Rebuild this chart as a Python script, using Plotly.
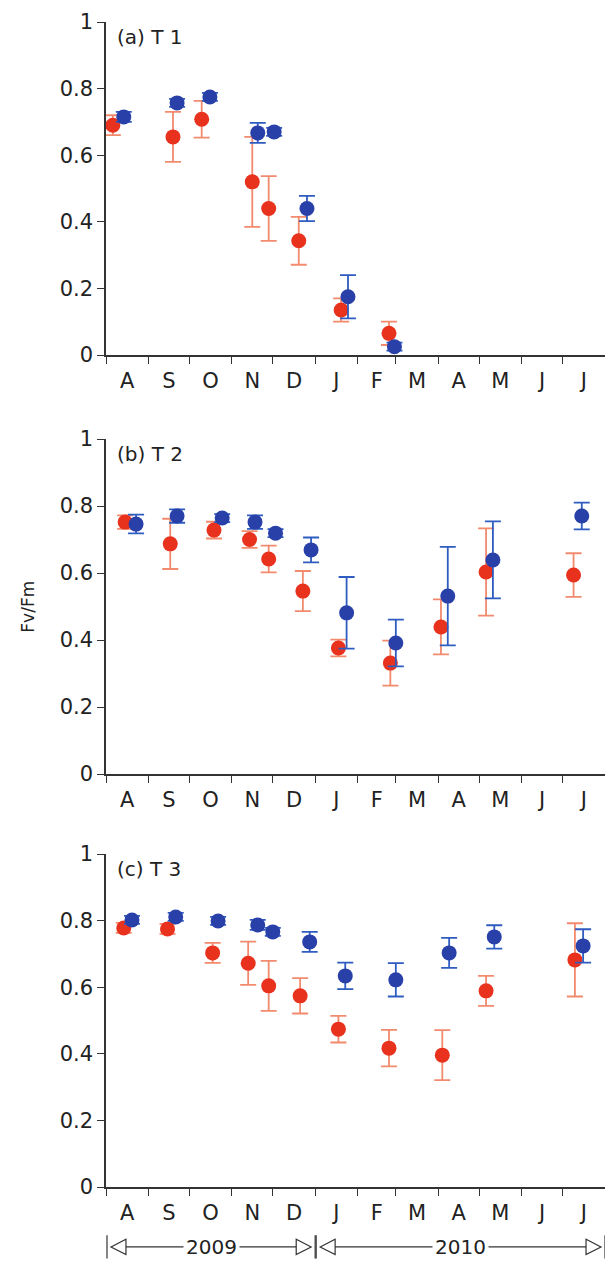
import plotly.graph_objects as go
from plotly.subplots import make_subplots
import pandas as pd

# ---------------- data ----------------
month_labels = ["A", "S", "O", "N", "D", "J", "F", "M", "A", "M", "J", "J"]
y_ticks = [0, 0.2, 0.4, 0.6, 0.8, 1]
y_ticktext = ["0", "0.2", "0.4", "0.6", "0.8", "1"]
panel_labels = ["(a) T 1", "(b) T 2", "(c) T 3"]
year_labels = ["2009", "2010"]

# Panel (a) T1
a_red_dates = ["2009-08-06", "2009-09-19", "2009-10-10", "2009-11-16", "2009-11-28",
               "2009-12-20", "2010-01-20", "2010-02-24"]
a_red_vals = [0.69, 0.655, 0.708, 0.52, 0.44, 0.343, 0.135, 0.065]
a_red_err = [0.03, 0.075, 0.055, 0.135, 0.097, 0.072, 0.035, 0.035]
a_blue_dates = ["2009-08-14", "2009-09-22", "2009-10-16", "2009-11-20", "2009-12-02",
                "2009-12-26", "2010-01-25", "2010-02-28"]
a_blue_vals = [0.715, 0.757, 0.775, 0.667, 0.67, 0.44, 0.175, 0.025]
a_blue_err = [0.015, 0.012, 0.012, 0.03, 0.012, 0.038, 0.065, 0.012]

# Panel (b) T2
b_red_dates = ["2009-08-15", "2009-09-17", "2009-10-19", "2009-11-14", "2009-11-28",
               "2009-12-23", "2010-01-18", "2010-02-25", "2010-04-03", "2010-05-06", "2010-07-09"]
b_red_vals = [0.752, 0.687, 0.728, 0.70, 0.642, 0.546, 0.376, 0.331, 0.439, 0.603, 0.594]
b_red_err = [0.02, 0.075, 0.025, 0.025, 0.04, 0.06, 0.025, 0.067, 0.082, 0.13, 0.065]
b_blue_dates = ["2009-08-23", "2009-09-22", "2009-10-25", "2009-11-18", "2009-12-03",
                "2009-12-29", "2010-01-24", "2010-03-01", "2010-04-08", "2010-05-11", "2010-07-15"]
b_blue_vals = [0.746, 0.770, 0.764, 0.752, 0.719, 0.669, 0.481, 0.391, 0.531, 0.639, 0.770]
b_blue_err = [0.028, 0.02, 0.012, 0.02, 0.012, 0.037, 0.107, 0.07, 0.147, 0.115, 0.04]

# Panel (c) T3
c_red_dates = ["2009-08-14", "2009-09-15", "2009-10-18", "2009-11-13", "2009-11-28",
               "2009-12-21", "2010-01-18", "2010-02-24", "2010-04-04", "2010-05-06", "2010-07-10"]
c_red_vals = [0.778, 0.775, 0.703, 0.672, 0.604, 0.574, 0.474, 0.417, 0.396, 0.589, 0.682]
c_red_err = [0.015, 0.015, 0.03, 0.065, 0.075, 0.053, 0.04, 0.055, 0.075, 0.045, 0.11]
c_blue_dates = ["2009-08-20", "2009-09-21", "2009-10-22", "2009-11-20", "2009-12-01",
                "2009-12-28", "2010-01-23", "2010-03-01", "2010-04-09", "2010-05-12", "2010-07-16"]
c_blue_vals = [0.802, 0.811, 0.799, 0.787, 0.766, 0.736, 0.634, 0.622, 0.703, 0.751, 0.724]
c_blue_err = [0.012, 0.012, 0.012, 0.015, 0.012, 0.03, 0.04, 0.05, 0.045, 0.035, 0.05]

x_start = "2009-08-01"
x_year_break = "2010-01-01"
x_end = "2010-08-01"

# ---------------- styling ----------------
RED = "#e8321e"
RED_ERR = "#f28a6e"
BLUE = "#2840a8"
BLUE_ERR = "#2f5cc0"
AX = "#333333"
TXT = "#222222"
FONT = "DejaVu Sans"

panels = [
    (a_red_dates, a_red_vals, a_red_err, a_blue_dates, a_blue_vals, a_blue_err),
    (b_red_dates, b_red_vals, b_red_err, b_blue_dates, b_blue_vals, b_blue_err),
    (c_red_dates, c_red_vals, c_red_err, c_blue_dates, c_blue_vals, c_blue_err),
]

fig = make_subplots(rows=3, cols=1)

for i, (rd, rv, re, bd, bv, be) in enumerate(panels, start=1):
    fig.add_trace(go.Scatter(
        x=rd, y=rv, mode="markers",
        marker=dict(color=RED, size=15, line=dict(width=0)),
        error_y=dict(type="data", array=re, color=RED_ERR, thickness=1.8, width=8),
        showlegend=False), row=i, col=1)
    fig.add_trace(go.Scatter(
        x=bd, y=bv, mode="markers",
        marker=dict(color=BLUE, size=15, line=dict(width=0)),
        error_y=dict(type="data", array=be, color=BLUE_ERR, thickness=1.8, width=8),
        showlegend=False), row=i, col=1)

# month label positions (mid-month) and boundaries
month_starts = pd.date_range(x_start, x_end, freq="MS")
mid_months = [(month_starts[k] + (month_starts[k + 1] - month_starts[k]) / 2).strftime("%Y-%m-%d %H:%M")
              for k in range(len(month_starts) - 1)]

total_h = 1261 - 22 - 74
domains = [
    [(total_h - 333) / total_h, 1.0],
    [(total_h - 752) / total_h, (total_h - 417) / total_h],
    [0.0, 333 / total_h],
]

for i in range(1, 4):
    xa = "xaxis" if i == 1 else f"xaxis{i}"
    ya = "yaxis" if i == 1 else f"yaxis{i}"
    fig.layout[xa].update(
        type="date", range=[x_start, x_end], domain=[0, 1],
        tickvals=mid_months, ticktext=month_labels,
        ticks="outside", ticklen=6, tickcolor="rgba(0,0,0,0)",
        tickfont=dict(family=FONT, size=21, color=TXT),
        showline=True, linecolor=AX, linewidth=1.5, showgrid=False, zeroline=False,
        minor=dict(ticks="outside", ticklen=7, tickcolor=AX, tickwidth=1,
                   dtick="M1", tick0=x_start, showgrid=False),
    )
    fig.layout[ya].update(
        range=[0, 1], domain=domains[i - 1],
        tickvals=y_ticks, ticktext=y_ticktext,
        ticks="outside", ticklen=7, tickcolor=AX, tickwidth=1,
        tickfont=dict(family=FONT, size=21, color=TXT),
        showline=True, linecolor=AX, linewidth=1.5, showgrid=False, zeroline=False,
    )
    fig.add_annotation(text=panel_labels[i - 1], xref=f"x{i if i > 1 else ''} domain",
                       yref=f"y{i if i > 1 else ''} domain", x=0.018, y=0.955,
                       xanchor="left", yanchor="middle", showarrow=False,
                       font=dict(family=FONT, size=20, color=TXT))

# y-axis title
fig.add_annotation(text="Fv/Fm", xref="paper", yref="y2 domain", x=-0.158, y=0.5,
                   textangle=-90, showarrow=False, xanchor="center", yanchor="middle",
                   font=dict(family=FONT, size=17, color=TXT))

# year brackets under the bottom panel
t0 = pd.Timestamp(x_start)
t1 = pd.Timestamp(x_year_break)
t2 = pd.Timestamp(x_end)
fb = (t1 - t0) / (t2 - t0)  # domain fraction of the year break
yl = -0.18
bar_lo, bar_hi = -0.215, -0.145
tri_w, tri_h = 0.03, 0.023
ln = dict(color=AX, width=1.2)
segments = [(0.004, fb - 0.002, year_labels[0]), (fb + 0.004, 0.998, year_labels[1])]
for (s, e, lab) in segments:
    for xx in (s - 0.002, e + 0.002):
        fig.add_shape(type="line", xref="x3 domain", yref="y3 domain",
                      x0=xx, x1=xx, y0=bar_lo, y1=bar_hi, line=ln)
    fig.add_shape(type="path", xref="x3 domain", yref="y3 domain",
                  path=f"M {s+0.006} {yl} L {s+0.006+tri_w} {yl+tri_h} L {s+0.006+tri_w} {yl-tri_h} Z",
                  line=ln, fillcolor="white")
    fig.add_shape(type="path", xref="x3 domain", yref="y3 domain",
                  path=f"M {e-0.006} {yl} L {e-0.006-tri_w} {yl+tri_h} L {e-0.006-tri_w} {yl-tri_h} Z",
                  line=ln, fillcolor="white")
    fig.add_shape(type="line", xref="x3 domain", yref="y3 domain",
                  x0=s + 0.006 + tri_w, x1=e - 0.006 - tri_w, y0=yl, y1=yl, line=ln)
    fig.add_annotation(text=lab, xref="x3 domain", yref="y3 domain", x=(s + e) / 2, y=yl,
                       showarrow=False, xanchor="center", yanchor="middle",
                       bgcolor="white", borderpad=2,
                       font=dict(family=FONT, size=20, color=TXT))

fig.update_layout(
    width=605, height=1261,
    margin=dict(l=106, r=0, t=22, b=74),
    paper_bgcolor="white", plot_bgcolor="white",
    showlegend=False,
)

fig.write_html("out.html", config={"displayModeBar": False},
               post_script="document.body.style.margin='0';document.body.style.overflow='hidden';")
